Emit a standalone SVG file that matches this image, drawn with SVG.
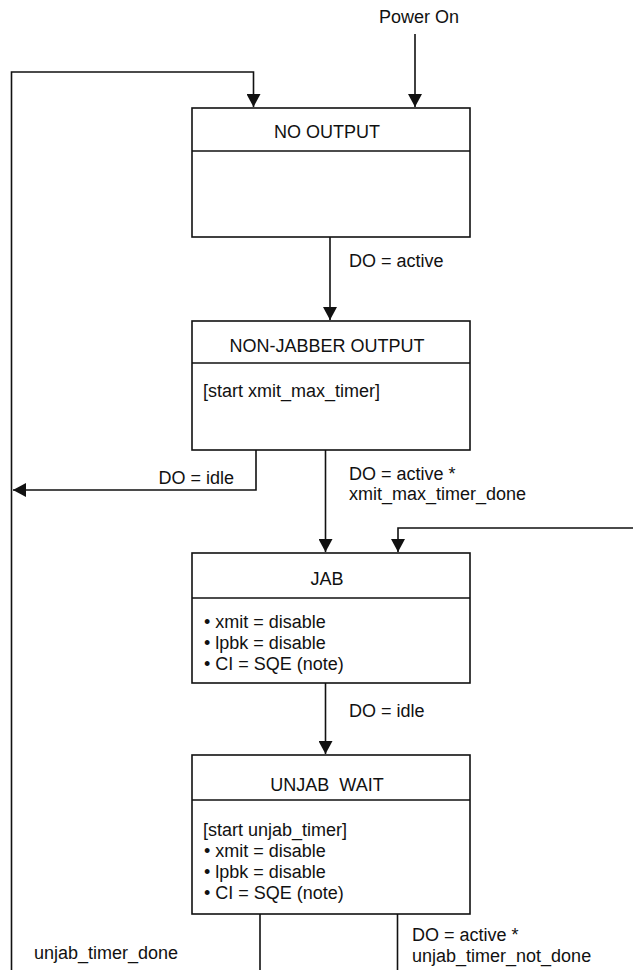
<svg xmlns="http://www.w3.org/2000/svg" width="633" height="970" viewBox="0 0 633 970">
<style>
  .box { fill: #fff; stroke: #111; stroke-width: 1.6; }
  .div { stroke: #111; stroke-width: 1.6; }
  .ln { fill: none; stroke: #111; stroke-width: 1.6; }
  text { font-family: "Liberation Sans", Arial, Helvetica, sans-serif; font-size: 18px; fill: #111; }
  .t { text-anchor: middle; }
</style>
<defs>
  <marker id="ah" markerUnits="userSpaceOnUse" markerWidth="14" markerHeight="14" refX="13" refY="7" orient="auto">
    <path d="M0,0 L13,7 L0,14 z" fill="#111"/>
  </marker>
</defs>

<g id="connectors">
  <path class="ln" d="M415,34 L415,107" marker-end="url(#ah)"/>
  <path class="ln" d="M260,914 L260,970"/>
  <path class="ln" d="M11.5,970 L11.5,72 L253.5,72 L253.5,107" marker-end="url(#ah)"/>
  <path class="ln" d="M330,237 L330,320" marker-end="url(#ah)"/>
  <path class="ln" d="M256,450 L256,490 L13,490" marker-end="url(#ah)"/>
  <path class="ln" d="M325.5,450 L325.5,552" marker-end="url(#ah)"/>
  <path class="ln" d="M633,528 L398,528 L398,552" marker-end="url(#ah)"/>
  <path class="ln" d="M325.5,683 L325.5,754" marker-end="url(#ah)"/>
  <path class="ln" d="M397.5,914 L397.5,970"/>
  <text x="419" y="23" class="t">Power On</text>
  <text x="349" y="267">DO = active</text>
  <text x="234" y="484" text-anchor="end">DO = idle</text>
  <text x="349" y="480">DO = active *</text>
  <text x="349" y="500">xmit_max_timer_done</text>
  <text x="349" y="717">DO = idle</text>
  <text x="34" y="959">unjab_timer_done</text>
  <text x="412" y="941">DO = active *</text>
  <text x="412" y="962">unjab_timer_not_done</text>
</g>

<g id="no-output">
  <rect class="box" x="192" y="108" width="278" height="129"/>
  <line class="div" x1="192" y1="151" x2="470" y2="151"/>
  <text x="327" y="138" class="t">NO OUTPUT</text>
</g>

<g id="non-jabber-output">
  <rect class="box" x="192" y="321" width="278" height="129"/>
  <line class="div" x1="192" y1="363" x2="470" y2="363"/>
  <text x="327" y="352" class="t">NON-JABBER OUTPUT</text>
  <text x="203" y="397">[start xmit_max_timer]</text>
</g>

<g id="jab">
  <rect class="box" x="192" y="553" width="278" height="130"/>
  <line class="div" x1="192" y1="598" x2="470" y2="598"/>
  <text x="327" y="585" class="t">JAB</text>
  <text x="204" y="628">• xmit = disable</text>
  <text x="204" y="649">• lpbk = disable</text>
  <text x="204" y="670">• CI = SQE (note)</text>
</g>

<g id="unjab-wait">
  <rect class="box" x="192" y="755" width="278" height="159"/>
  <line class="div" x1="192" y1="800" x2="470" y2="800"/>
  <text x="327" y="791" class="t" xml:space="preserve">UNJAB  WAIT</text>
  <text x="203" y="836">[start unjab_timer]</text>
  <text x="204" y="857">• xmit = disable</text>
  <text x="204" y="878">• lpbk = disable</text>
  <text x="204" y="899">• CI = SQE (note)</text>
</g>
</svg>
